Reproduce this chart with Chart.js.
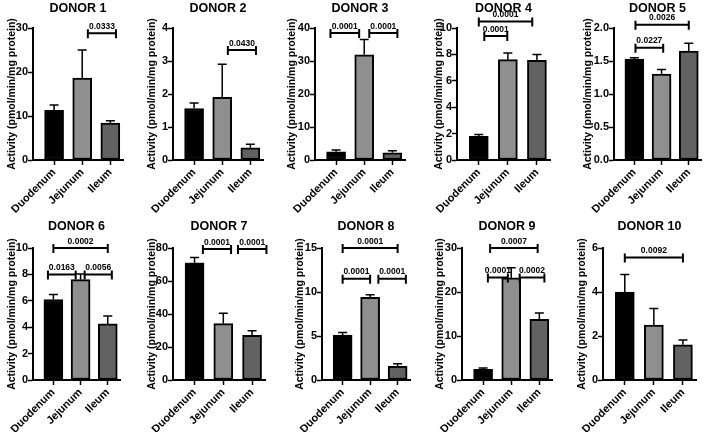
<!DOCTYPE html>
<html lang="en">
<head>
<meta charset="UTF-8">
<title>Activity by donor</title>
<style>
  html, body { margin: 0; padding: 0; background: #fff; overflow: hidden; }
  body { width: 709px; height: 432px; position: relative; }
  canvas { position: absolute; }
</style>
</head>
<body>
<script src="https://cdn.jsdelivr.net/npm/chart.js"></script>
<script>
  // data
  const categories = ['Duodenum', 'Jejunum', 'Ileum'];
  const donors = ['DONOR 1', 'DONOR 2', 'DONOR 3', 'DONOR 4', 'DONOR 5',
                  'DONOR 6', 'DONOR 7', 'DONOR 8', 'DONOR 9', 'DONOR 10'];
  const means = [
    [11.3, 18.6, 8.4],
    [1.56, 1.9, 0.37],
    [2.5, 31.9, 2.2],
    [1.8, 7.6, 7.55],
    [1.53, 1.30, 1.65],
    [6.1, 7.6, 4.25],
    [71, 34.2, 27.1],
    [5.1, 9.4, 1.55],
    [2.4, 23.2, 13.8],
    [4.0, 2.5, 1.6]
  ];
  const sds = [
    [1.2, 6.4, 0.5],
    [0.17, 1.0, 0.11],
    [0.5, 4.6, 0.6],
    [0.13, 0.5, 0.45],
    [0.02, 0.07, 0.12],
    [0.37, 0.43, 0.6],
    [3.3, 6.3, 2.7],
    [0.3, 0.3, 0.3],
    [0.35, 2.3, 1.4],
    [0.8, 0.75, 0.22]
  ];
  const yMax = [30, 4, 40, 10, 2, 10, 80, 15, 30, 6];
  const yStep = [10, 1, 10, 2, 0.5, 2, 20, 5, 10, 2];
  // [from category, to category, height, p value]
  const brackets = [
    [[1, 2, 28.8, '0.0333']],
    [[1, 2, 3.33, '0.0430']],
    [[0, 1, 38.5, '0.0001'], [1, 2, 38.5, '0.0001']],
    [[0, 1, 9.4, '0.0001'], [0, 2, 10.5, '0.0001']],
    [[0, 1, 1.70, '0.0227'], [0, 2, 2.05, '0.0026']],
    [[0, 1, 8.0, '0.0163'], [1, 2, 8.0, '0.0056'], [0, 2, 10.0, '0.0002']],
    [[0, 1, 79.4, '0.0001'], [1, 2, 79.4, '0.0001']],
    [[0, 1, 11.5, '0.0001'], [1, 2, 11.5, '0.0001'], [0, 2, 15, '0.0001']],
    [[0, 1, 23.3, '0.0001'], [1, 2, 23.3, '0.0002'], [0, 2, 30, '0.0007']],
    [[0, 2, 5.57, '0.0092']]
  ];

  // layout / styling
  const barColors = ['#000000', '#8f8f8f', '#626262'];
  const bracketNudge = [
    [[0.2, 0.2]],
    [[0.2, 0.2]],
    [[-0.2, -0.18], [0.18, 0.18]],
    [[0.19, -0.02], [0, -0.16]],
    [[0.04, 0.06], [0.04, 0]],
    [[-0.2, -0.18], [0.15, 0.15], [0, 0]],
    [[0.29, 0.27], [0.51, 0.5]],
    [[0, 0], [0.3, 0.3], [0, 0]],
    [[0.17, -0.12], [0.3, 0.18], [0.25, -0.06]],
    [[0, 0]]
  ];
  const axisX = [33, 173, 315, 457, 614, 33, 173, 322, 462, 603];
  const axisRight = [123, 263, 405, 550, 701, 120, 265, 410, 552, 696];
  const yTitleX = [12, 152, 292, 439, 588, 12, 152, 300, 440, 582];
  const rowTop = [0, 220];
  const titleY = [9, 227];
  const X_MIN = -0.75, X_MAX = 2.45;
  const FONT = '"Liberation Sans", Arial, sans-serif';

  const extras = {
    id: 'extras',
    afterDatasetsDraw(chart, args, opts) {
      const i = opts.panel;
      const ctx = chart.ctx, x = chart.scales.x, y = chart.scales.y;
      ctx.save();
      ctx.strokeStyle = '#000';
      ctx.fillStyle = '#000';
      // error bars (mean + SD)
      ctx.lineWidth = 1.5;
      means[i].forEach((m, k) => {
        const px = x.getPixelForValue(k);
        const y0 = y.getPixelForValue(m), y1 = y.getPixelForValue(m + sds[i][k]);
        ctx.beginPath();
        ctx.moveTo(px, y0); ctx.lineTo(px, y1);
        ctx.moveTo(px - 4.5, y1); ctx.lineTo(px + 4.5, y1);
        ctx.stroke();
      });
      // significance brackets
      ctx.lineWidth = 2;
      ctx.font = 'bold 8.5px ' + FONT;
      ctx.textAlign = 'center';
      ctx.textBaseline = 'bottom';
      brackets[i].forEach((b, k) => {
        const n = bracketNudge[i][k];
        const xa = x.getPixelForValue(b[0] + n[0]), xb = x.getPixelForValue(b[1] + n[1]);
        const py = y.getPixelForValue(b[2]);
        ctx.beginPath();
        ctx.moveTo(xa, py); ctx.lineTo(xb, py);
        ctx.moveTo(xa, py - 4); ctx.lineTo(xa, py + 5);
        ctx.moveTo(xb, py - 4); ctx.lineTo(xb, py + 5);
        ctx.stroke();
        ctx.fillText(b[3], (xa + xb) / 2, py - 2.5);
      });
      // panel title
      ctx.font = 'bold 12.5px ' + FONT;
      ctx.textBaseline = 'middle';
      const area = chart.chartArea;
      ctx.fillText(donors[i], (area.left + area.right) / 2, opts.titleY);
      ctx.restore();
    }
  };

  donors.forEach((name, i) => {
    const row = i < 5 ? 0 : 1;
    const left = yTitleX[i] - 6;
    const canvas = document.createElement('canvas');
    canvas.width = axisRight[i] - left + 8;
    canvas.height = 216;
    canvas.style.left = left + 'px';
    canvas.style.top = rowTop[row] + 'px';
    document.body.appendChild(canvas);

    new Chart(canvas, {
      type: 'bar',
      data: {
        datasets: [{
          data: means[i].map((v, k) => ({ x: k, y: v })),
          backgroundColor: barColors,
          borderColor: '#000',
          borderWidth: 2,
          borderSkipped: false,
          barThickness: 19
        }]
      },
      plugins: [extras],
      options: {
        responsive: false,
        animation: false,
        events: [],
        layout: { padding: { top: 28, right: 8, bottom: 0, left: 0 } },
        plugins: {
          legend: { display: false },
          tooltip: { enabled: false },
          extras: { panel: i, titleY: titleY[row] - rowTop[row] }
        },
        scales: {
          x: {
            type: 'linear',
            offset: false,
            bounds: 'data',
            min: X_MIN,
            max: X_MAX,
            afterBuildTicks: s => {
              s.ticks = [0, 1, 2].map(v => ({ value: v }));
              s.min = X_MIN;
              s.max = X_MAX;
            },
            afterFit: s => { s.height = 56; s.paddingLeft = 0; s.paddingRight = 0; },
            border: { display: true, color: '#000', width: 2 },
            grid: { display: true, offset: false, drawOnChartArea: false, drawTicks: true, tickLength: 5,
                    tickColor: '#000', tickWidth: 1.5, color: '#000' },
            ticks: {
              autoSkip: false, minRotation: 45, maxRotation: 45, padding: 1,
              color: '#000', font: { family: FONT, size: 11, weight: 'bold' },
              callback: v => categories[v] ?? ''
            }
          },
          y: {
            min: 0,
            max: yMax[i],
            afterFit: s => { s.width = axisX[i] - left; },
            border: { display: true, color: '#000', width: 2 },
            grid: { display: true, drawOnChartArea: false, drawTicks: true, tickLength: 5,
                    tickColor: '#000', tickWidth: 1.5, color: '#000' },
            ticks: {
              stepSize: yStep[i], padding: 0, color: '#000',
              font: { family: FONT, size: 11, weight: 'bold' },
              callback: v => yStep[i] < 1 ? v.toFixed(1) : v
            },
            title: {
              display: true,
              text: 'Activity (pmol/min/mg protein)',
              color: '#000',
              padding: 0,
              font: { family: FONT, size: 10.5, weight: 'bold', lineHeight: 1.2 }
            }
          }
        }
      }
    });
  });
</script>
</body>
</html>
